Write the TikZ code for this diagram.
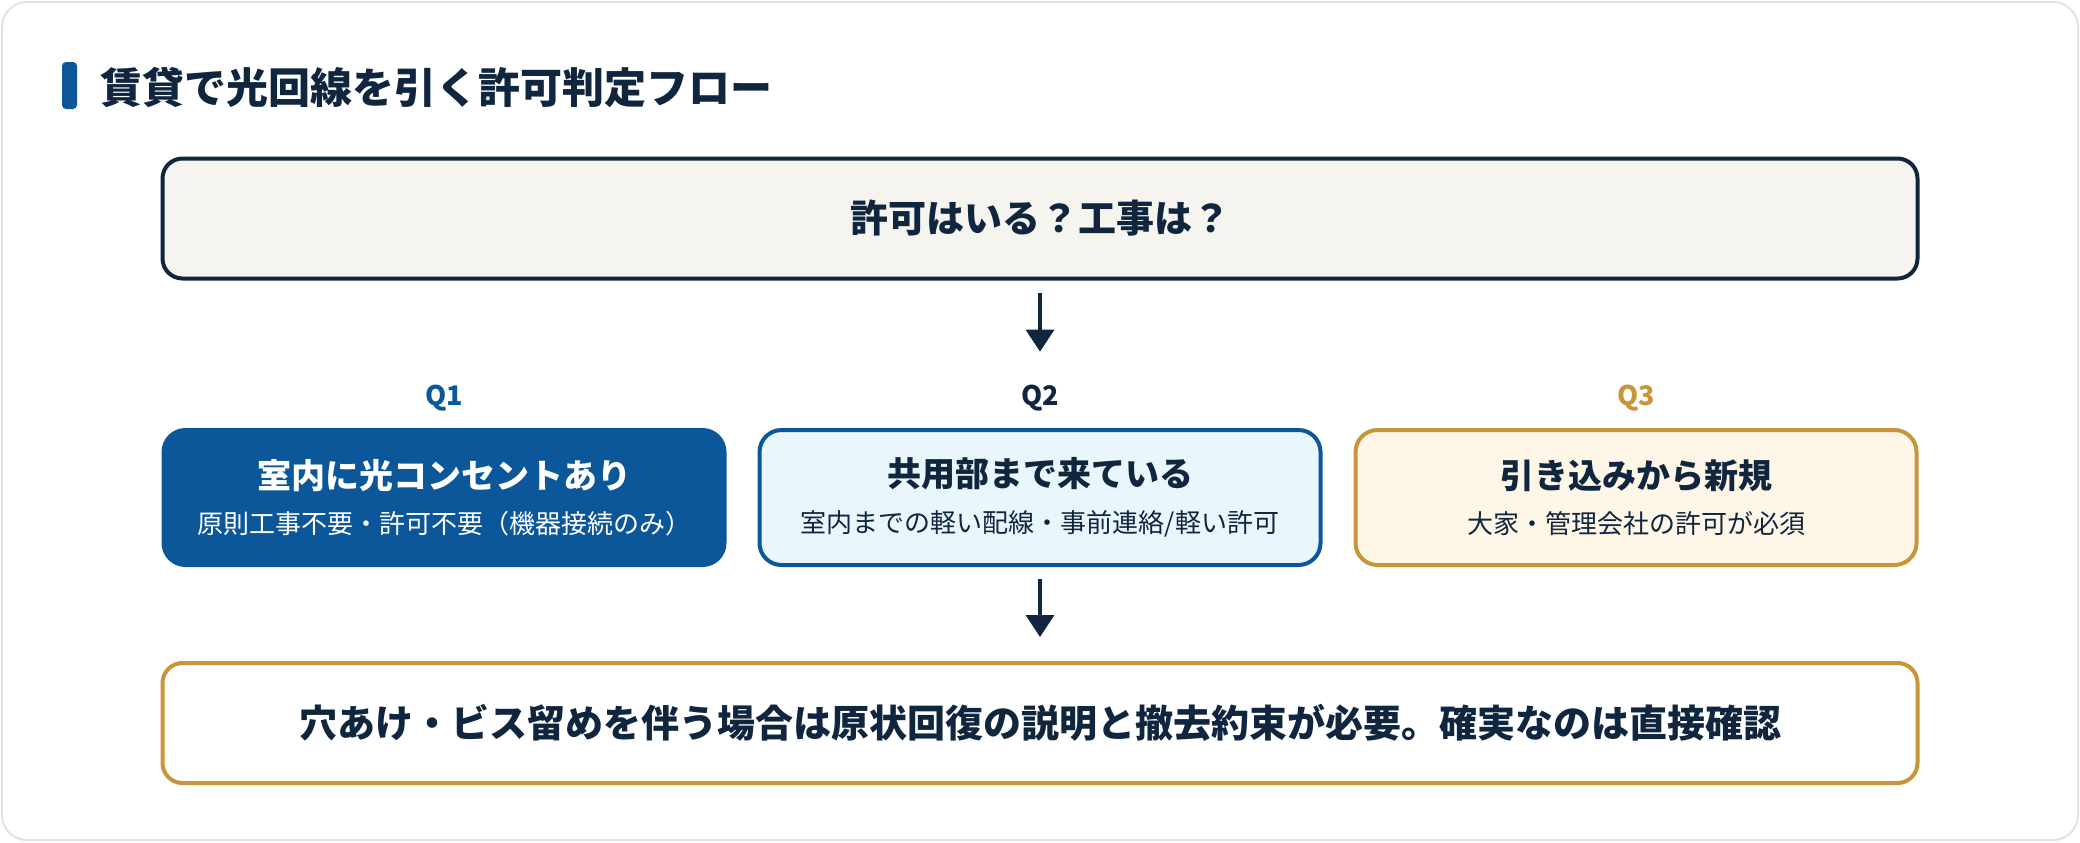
\documentclass[tikz,border=0pt]{standalone}
\usepackage{fontspec}
\setmainfont{Noto Sans CJK JP}
\usetikzlibrary{arrows.meta, positioning}
\definecolor{navy}{HTML}{10263F}
\definecolor{mainblue}{HTML}{0B5799}
\definecolor{gold}{HTML}{C8953A}
\definecolor{paper}{HTML}{F5F4EF}
\definecolor{skyfill}{HTML}{E9F6FC}
\definecolor{creamfill}{HTML}{FEF6E6}
\definecolor{cardline}{HTML}{E6E3D8}

\begin{document}
\begin{tikzpicture}[
  x=0.5pt, y=-0.5pt,
  node distance=15.5pt,
  box/.style={draw, rounded corners=11pt, line width=2pt, align=center, text=navy,
    minimum width=280.5pt, minimum height=67.5pt, inner sep=0pt,
    font=\fontsize{13}{20.8}\selectfont},
  casebox/.style={box, execute at begin node=\rule{0pt}{23pt}},
  wide/.style={box, rounded corners=10pt, minimum width=877.5pt, minimum height=60pt,
    font=\fontsize{19}{22}\selectfont\bfseries},
  qlabel/.style={font=\fontsize{13.5}{16}\selectfont\bfseries, inner sep=0pt},
  arrow/.style={-{Triangle[width=14pt,length=11pt]}, line width=1.75pt, draw=navy}
]
\useasboundingbox (0,0) rectangle (2080,842);
\draw[cardline, fill=white, line width=1pt, rounded corners=12.5pt] (2,2) rectangle (2078,840);

% title
\fill[mainblue, rounded corners=2pt] (62,62) rectangle (77,109);
\node[anchor=west, inner sep=0pt, text=navy, font=\fontsize{21}{26}\selectfont\bfseries] (title) at (100,87) {賃貸で光回線を引く許可判定フロー};

% question
\node[wide, draw=navy, fill=paper] (ask) at (1040,218.5) {許可はいる？工事は？};

% three cases
\node[casebox, draw=mainblue, fill=skyfill] (shared) at (1040,497.5) {{\fontsize{17}{20}\selectfont\bfseries 共用部まで来ている}\\[2pt]室内までの軽い配線・事前連絡/軽い許可};
\node[casebox, draw=mainblue, fill=mainblue, text=white, left=of shared] (outlet) {{\fontsize{17}{20}\selectfont\bfseries 室内に光コンセントあり}\\[2pt]原則工事不要・許可不要\makebox[1em][r]{（}機器接続のみ\makebox[1em][l]{）}};
\node[casebox, draw=gold, fill=creamfill, right=of shared] (newline) {{\fontsize{17}{20}\selectfont\bfseries 引き込みから新規}\\[2pt]大家・管理会社の許可が必須};

\node[qlabel, text=mainblue, above=8pt of outlet] (q1) {Q1};
\node[qlabel, text=navy, above=8pt of shared] (q2) {Q2};
\node[qlabel, text=gold, above=8pt of newline] (q3) {Q3};

% note
\node[wide, draw=gold, fill=white, below=47pt of shared] (note) {穴あけ・ビス留めを伴う場合は原状回復の説明と撤去約束が必要。確実なのは直接確認};

\draw[arrow, shorten <=6pt, shorten >=16.7pt] (ask) -- (q2);
\draw[arrow, shorten <=6pt, shorten >=12pt] (shared) -- (note);
\end{tikzpicture}
\end{document}
